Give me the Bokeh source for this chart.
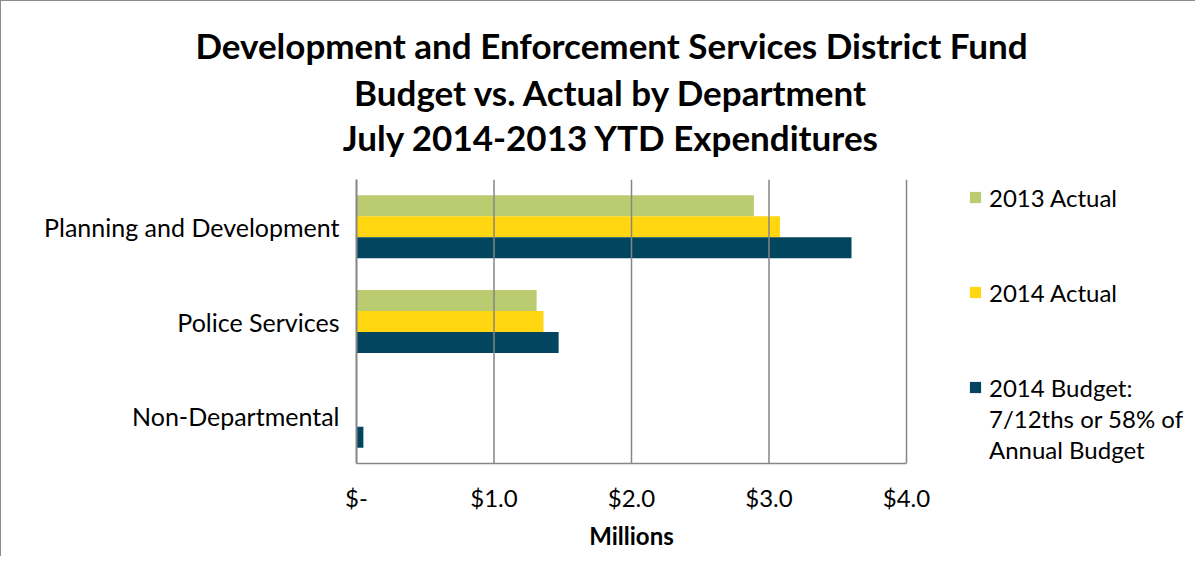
from bokeh.plotting import figure
from bokeh.models import Legend, LegendItem, FixedTicker, Range1d, LinearAxis
from bokeh.embed import file_html
from bokeh.resources import INLINE

# ---- data ----
depts = ["Planning and Development", "Police Services", "Non-Departmental"]
actual_2013 = [2.89, 1.31, 0.0]
actual_2014 = [3.08, 1.36, 0.0]
budget_2014 = [3.60, 1.47, 0.05]
tick_values = [0, 1, 2, 3, 4]
tick_labels = ["$-", "$1.0", "$2.0", "$3.0", "$4.0"]
x_axis_title = "Millions"
series_names = ["2013 Actual", "2014 Actual", "2014 Budget:"]
budget_extra_lines = ["7/12ths or 58% of", "Annual Budget"]
title_lines = ["Development and Enforcement Services District Fund",
               "Budget vs. Actual by Department",
               "July 2014-2013 YTD Expenditures"]
colors = ["#BACC6F", "#FFD60F", "#03445E"]

FONT = "Lato"
W, H = 1195, 556
ML, MR, MT, MB = 355, 0, 178, 94
frame_w = W - ML - MR
bar_area_w = 550                       # pixel width of the 0..4 bar area
px_per_unit_x = bar_area_w / tick_values[-1]
ncat = len(depts)

p = figure(width=W, height=H, output_backend="svg", toolbar_location=None,
           x_range=Range1d(0, frame_w / px_per_unit_x),
           y_range=Range1d(0, ncat),
           min_border_left=ML, min_border_right=MR,
           min_border_top=MT, min_border_bottom=MB)
p.styles = {"border-left": "1px solid #8c8c8c", "border-top": "1px solid #8c8c8c"}
p.outline_line_color = None
p.background_fill_color = "white"

# category centres (top category first)
yc = [ncat - 0.5 - i for i in range(ncat)]
bh = 0.222
src = dict(y13=[y + bh for y in yc], y14=yc, yb=[y - bh for y in yc],
           a13=actual_2013, a14=actual_2014, b14=budget_2014)
r1 = p.hbar(y="y13", right="a13", left=0, height=bh, source=src,
            fill_color=colors[0], line_color=None)
r2 = p.hbar(y="y14", right="a14", left=0, height=bh, source=src,
            fill_color=colors[1], line_color=None)
r3 = p.hbar(y="yb", right="b14", left=0, height=bh, source=src,
            fill_color=colors[2], line_color=None)
blank = p.hbar(y=[], right=[], left=0, height=bh, fill_alpha=0, line_alpha=0)

# vertical gridlines limited to the bar area
p.xgrid.grid_line_color = None
p.ygrid.grid_line_color = None
p.segment(x0=tick_values[1:], x1=tick_values[1:], y0=0, y1=ncat,
          line_color="#868686", line_width=1.5)

# x axis
p.xaxis.ticker = FixedTicker(ticks=tick_values)
p.xaxis.bounds = (tick_values[0], tick_values[-1])
p.xaxis.major_label_overrides = {v: l for v, l in zip(tick_values, tick_labels)}
p.xaxis.major_tick_line_color = None
p.xaxis.minor_tick_line_color = None
p.xaxis.major_tick_out = 0
p.xaxis.major_tick_in = 0
p.xaxis.axis_line_color = "#868686"
p.xaxis.axis_line_width = 1.5
p.xaxis.major_label_standoff = 19
p.xaxis.major_label_text_font = FONT
p.xaxis.major_label_text_font_size = "24px"
p.xaxis.major_label_text_color = "black"

def text_axis(pos, text, standoff, size, bold):
    return LinearAxis(ticker=FixedTicker(ticks=[pos]),
                      major_label_overrides={pos: text},
                      axis_line_color=None, major_tick_line_color=None,
                      minor_tick_line_color=None, major_tick_out=0, major_tick_in=0,
                      minor_tick_out=0, minor_tick_in=0,
                      major_label_standoff=standoff,
                      major_label_text_font=FONT,
                      major_label_text_font_size=size,
                      major_label_text_font_style="bold" if bold else "normal",
                      major_label_text_color="black")

# axis title: centred under the bar area
mid = (tick_values[0] + tick_values[-1]) / 2
p.add_layout(text_axis(mid, x_axis_title, 6, "24px", True), "below")

# chart title lines, stacked above the plot (innermost first)
title_center = (612 - 357) / px_per_unit_x
for txt, so in zip(reversed(title_lines), [22, 0, 2]):
    p.add_layout(text_axis(title_center, txt, so, "35px", True), "above")

# y axis (categories)
p.yaxis.ticker = FixedTicker(ticks=yc)
p.yaxis.major_label_overrides = {y: d for y, d in zip(yc, depts)}
p.yaxis.major_tick_line_color = None
p.yaxis.minor_tick_line_color = None
p.yaxis.major_tick_out = 0
p.yaxis.major_tick_in = 0
p.yaxis.axis_line_color = "#868686"
p.yaxis.axis_line_width = 2
p.yaxis.major_label_standoff = 17
p.yaxis.major_label_text_font = FONT
p.yaxis.major_label_text_font_size = "25px"
p.yaxis.major_label_text_color = "black"

# legend: series rows, then the budget label's continuation lines
common = dict(padding=0, margin=0, border_line_color=None, background_fill_alpha=0,
              glyph_width=14, glyph_height=14, label_standoff=7,
              label_text_font=FONT, label_text_font_size="24px",
              label_text_color="black")
lg_a = Legend(items=[LegendItem(label=n, renderers=[r])
                     for n, r in zip(series_names, [r1, r2, r3])],
              location=(612, 60), label_height=32, spacing=63, **common)
lg_b = Legend(items=[LegendItem(label=t, renderers=[blank]) for t in budget_extra_lines],
              location=(612, -2), label_height=31, spacing=0, **common)
p.add_layout(lg_a, "center")
p.add_layout(lg_b, "center")

open("out.html", "w").write(file_html(p, INLINE))
